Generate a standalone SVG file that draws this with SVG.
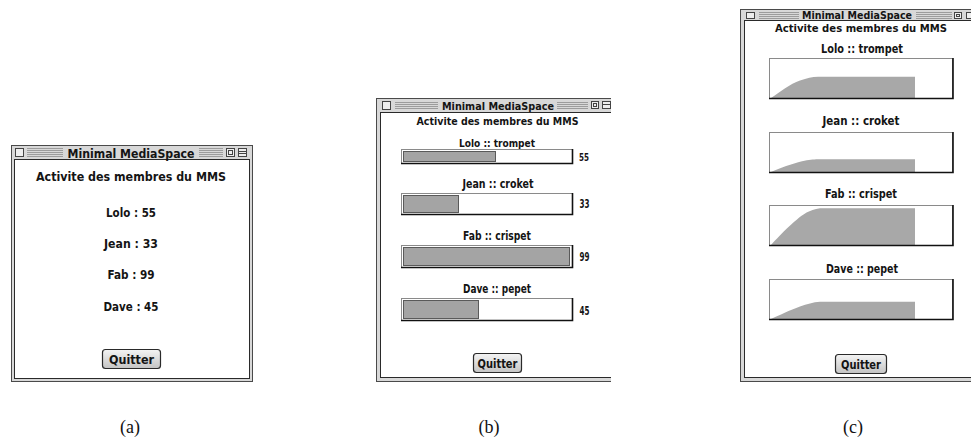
<svg xmlns="http://www.w3.org/2000/svg" width="971" height="439" viewBox="0 0 971 439">
  <defs>
    <style>
      .frame { fill: #d8d8d8; stroke: #4a4a4a; stroke-width: 1; }
      .pane { fill: #ffffff; stroke: #2a2a2a; stroke-width: 1; }
      .closebox { fill: #eeeeee; stroke: #444444; stroke-width: 1; }
      .stripe { fill: url(#stripes); }
      .ui { font-family: "DejaVu Sans Condensed", "DejaVu Sans", "Liberation Sans", sans-serif; font-stretch: condensed; font-weight: bold; fill: #141414; text-anchor: middle; }
      .num { text-anchor: start; }
      .caption { font-family: "Liberation Serif", "Times New Roman", serif; font-size: 18px; fill: #111111; text-anchor: middle; }
      .btn { fill: url(#btnGrad); stroke: #2a2a2a; stroke-width: 1.2; }
      .track { fill: #ffffff; stroke: #8a8a8a; stroke-width: 1; }
      .edge { fill: none; stroke: #111111; stroke-width: 1.6; }
      .level { fill: #a4a4a4; stroke: #5a5a5a; stroke-width: 1; }
      .area { fill: #a8a8a8; stroke: none; }
    </style>
    <pattern id="stripes" width="4" height="2" patternUnits="userSpaceOnUse">
      <rect x="0" y="0" width="4" height="1" fill="#9c9c9c"/>
    </pattern>
    <linearGradient id="btnGrad" x1="0" y1="0" x2="0" y2="1">
      <stop offset="0" stop-color="#f4f4f4"/>
      <stop offset="1" stop-color="#c4c4c4"/>
    </linearGradient>
    <clipPath id="clipB">
      <rect x="370" y="90" width="241" height="300"/>
    </clipPath>
  </defs>

  <rect width="971" height="439" fill="#ffffff"/>

  <!-- (a) text-only window -->
  <g id="window-a">
    <rect class="frame" x="11.5" y="145.5" width="241" height="236"/>
    <rect class="pane" x="14.5" y="159.5" width="235" height="219"/>
    <rect class="closebox" x="15.5" y="148.5" width="8" height="8"/>
    <rect class="stripe" x="27" y="148" width="36" height="9"/>
    <rect class="stripe" x="199" y="148" width="24" height="9"/>
    <rect class="closebox" x="226.5" y="148.5" width="8" height="8"/>
    <rect x="228.5" y="150.5" width="4" height="4" fill="none" stroke="#444" stroke-width="1"/>
    <rect class="closebox" x="238.5" y="148.5" width="8" height="8"/>
    <line x1="238.5" y1="151.5" x2="246.5" y2="151.5" stroke="#444"/>
    <line x1="238.5" y1="153.5" x2="246.5" y2="153.5" stroke="#444"/>
    <text class="ui" x="131" y="157.5" font-size="13" textLength="127" lengthAdjust="spacingAndGlyphs">Minimal MediaSpace</text>
    <text class="ui" x="131" y="180.5" font-size="13" textLength="190" lengthAdjust="spacingAndGlyphs">Activite des membres du MMS</text>
    <g id="a-lolo"><text class="ui" x="131" y="216.5" font-size="13" textLength="50" lengthAdjust="spacingAndGlyphs">Lolo : 55</text></g>
    <g id="a-jean"><text class="ui" x="131" y="247.5" font-size="13" textLength="54" lengthAdjust="spacingAndGlyphs">Jean : 33</text></g>
    <g id="a-fab"><text class="ui" x="131" y="278.5" font-size="13" textLength="47" lengthAdjust="spacingAndGlyphs">Fab : 99</text></g>
    <g id="a-dave"><text class="ui" x="131" y="310.5" font-size="13" textLength="55" lengthAdjust="spacingAndGlyphs">Dave : 45</text></g>
    <g id="a-quit">
      <rect class="btn" x="102.5" y="349.5" width="58" height="19" rx="3"/>
      <text class="ui" x="131.5" y="364" font-size="12.5" textLength="45" lengthAdjust="spacingAndGlyphs">Quitter</text>
    </g>
  </g>

  <!-- (b) bar-gauge window -->
  <g id="window-b" clip-path="url(#clipB)">
    <rect class="frame" x="376.5" y="98.5" width="244" height="283"/>
    <rect class="pane" x="380.5" y="112.5" width="236" height="265"/>
    <rect class="closebox" x="382.5" y="101.5" width="8" height="8"/>
    <rect class="stripe" x="395" y="101" width="43" height="9"/>
    <rect class="stripe" x="557" y="101" width="31" height="9"/>
    <rect class="closebox" x="591.5" y="101.5" width="7" height="7"/>
    <rect x="593.5" y="103.5" width="3" height="3" fill="none" stroke="#444"/>
    <rect class="closebox" x="602.5" y="101.5" width="8" height="7"/>
    <line x1="602.5" y1="104.5" x2="610.5" y2="104.5" stroke="#444"/>
    <text class="ui" x="498" y="109.5" font-size="11" textLength="112" lengthAdjust="spacingAndGlyphs">Minimal MediaSpace</text>
    <text class="ui" x="497.5" y="125" font-size="11" textLength="162" lengthAdjust="spacingAndGlyphs">Activite des membres du MMS</text>

    <g id="b-lolo">
      <text class="ui" x="497" y="146.5" font-size="10" textLength="76" lengthAdjust="spacingAndGlyphs">Lolo :: trompet</text>
      <rect class="track" x="401.5" y="149.5" width="171" height="14"/>
      <path class="edge" d="M401,163.5 H572.5 V149"/>
      <rect class="level" x="403.5" y="151.5" width="92" height="10"/>
      <text class="ui num" x="579" y="161" font-size="11" textLength="10" lengthAdjust="spacingAndGlyphs">55</text>
    </g>
    <g id="b-jean">
      <text class="ui" x="498" y="187.5" font-size="13" textLength="71" lengthAdjust="spacingAndGlyphs">Jean :: croket</text>
      <rect class="track" x="401.5" y="193.5" width="171" height="21"/>
      <path class="edge" d="M401,214.5 H572.5 V193"/>
      <rect class="level" x="403.5" y="195.5" width="55" height="17"/>
      <text class="ui num" x="579.5" y="208" font-size="12.5" textLength="10" lengthAdjust="spacingAndGlyphs">33</text>
    </g>
    <g id="b-fab">
      <text class="ui" x="497" y="239.5" font-size="13" textLength="68" lengthAdjust="spacingAndGlyphs">Fab :: crispet</text>
      <rect class="track" x="401.5" y="245.5" width="171" height="22"/>
      <path class="edge" d="M401,267.5 H572.5 V245"/>
      <rect class="level" x="403.5" y="247.5" width="166" height="18"/>
      <text class="ui num" x="579.5" y="260.5" font-size="12" textLength="10" lengthAdjust="spacingAndGlyphs">99</text>
    </g>
    <g id="b-dave">
      <text class="ui" x="497" y="292.5" font-size="13" textLength="68" lengthAdjust="spacingAndGlyphs">Dave :: pepet</text>
      <rect class="track" x="401.5" y="298.5" width="171" height="22"/>
      <path class="edge" d="M401,320.5 H572.5 V298"/>
      <rect class="level" x="403.5" y="300.5" width="75" height="18"/>
      <text class="ui num" x="579.5" y="314.5" font-size="12" textLength="10" lengthAdjust="spacingAndGlyphs">45</text>
    </g>
    <g id="b-quit">
      <rect class="btn" x="473.5" y="353.5" width="48" height="19" rx="3"/>
      <text class="ui" x="497.5" y="367.5" font-size="12" textLength="40" lengthAdjust="spacingAndGlyphs">Quitter</text>
    </g>
  </g>

  <!-- (c) activity-history window -->
  <g id="window-c">
    <rect class="frame" x="740.5" y="9.5" width="240" height="372"/>
    <rect class="pane" x="744.5" y="20.5" width="236" height="357"/>
    <rect class="closebox" x="746.5" y="12.5" width="8" height="6"/>
    <rect class="stripe" x="759" y="12" width="40" height="7"/>
    <rect class="stripe" x="916" y="12" width="36" height="7"/>
    <rect class="closebox" x="954.5" y="12.5" width="7" height="6"/>
    <rect x="956.5" y="14.5" width="3" height="2" fill="none" stroke="#444"/>
    <rect class="closebox" x="966.5" y="12.5" width="8" height="6"/>
    <text class="ui" x="857" y="19" font-size="10.5" textLength="110" lengthAdjust="spacingAndGlyphs">Minimal MediaSpace</text>
    <text class="ui" x="861" y="32" font-size="11" textLength="172" lengthAdjust="spacingAndGlyphs">Activite des membres du MMS</text>

    <g id="c-lolo">
      <text class="ui" x="862" y="52.5" font-size="13" textLength="82" lengthAdjust="spacingAndGlyphs">Lolo :: trompet</text>
      <rect class="track" x="769.5" y="58.5" width="183" height="40"/>
      <path class="area" d="M771,98 C780,92 790,84 800,80.5 C807,78 812,77 818,76.7 H915 V98 Z"/>
      <path class="edge" d="M769,98.5 H953 V58"/>
    </g>
    <g id="c-jean">
      <text class="ui" x="861" y="124.5" font-size="13" textLength="77" lengthAdjust="spacingAndGlyphs">Jean :: croket</text>
      <rect class="track" x="769.5" y="132.5" width="183" height="40"/>
      <path class="area" d="M771,172 C780,168 792,164 802,161.3 C809,159.8 813,159.4 818,159.3 H915 V172 Z"/>
      <path class="edge" d="M769,172.5 H953 V132"/>
    </g>
    <g id="c-fab">
      <text class="ui" x="861" y="197.5" font-size="13" textLength="72" lengthAdjust="spacingAndGlyphs">Fab :: crispet</text>
      <rect class="track" x="769.5" y="205.5" width="183" height="40"/>
      <path class="area" d="M771,245 C779,236 789,226 797,219.5 C803,214.5 809,210 820,208.3 H915 V245 Z"/>
      <path class="edge" d="M769,245.5 H953 V205"/>
    </g>
    <g id="c-dave">
      <text class="ui" x="862" y="272.8" font-size="13" textLength="72" lengthAdjust="spacingAndGlyphs">Dave :: pepet</text>
      <rect class="track" x="769.5" y="279.5" width="183" height="40"/>
      <path class="area" d="M771,319 C779,315.5 790,310 800,306.5 C807,304 813,302.2 820,301.7 H915 V319 Z"/>
      <path class="edge" d="M769,319.5 H953 V279"/>
    </g>
    <g id="c-quit">
      <rect class="btn" x="835.5" y="354.5" width="51" height="19" rx="3"/>
      <text class="ui" x="861" y="368.5" font-size="12" textLength="40" lengthAdjust="spacingAndGlyphs">Quitter</text>
    </g>
  </g>

  <!-- panel captions -->
  <g id="captions">
    <text class="caption" x="130" y="433">(a)</text>
    <text class="caption" x="489" y="433">(b)</text>
    <text class="caption" x="853" y="433">(c)</text>
  </g>
</svg>
